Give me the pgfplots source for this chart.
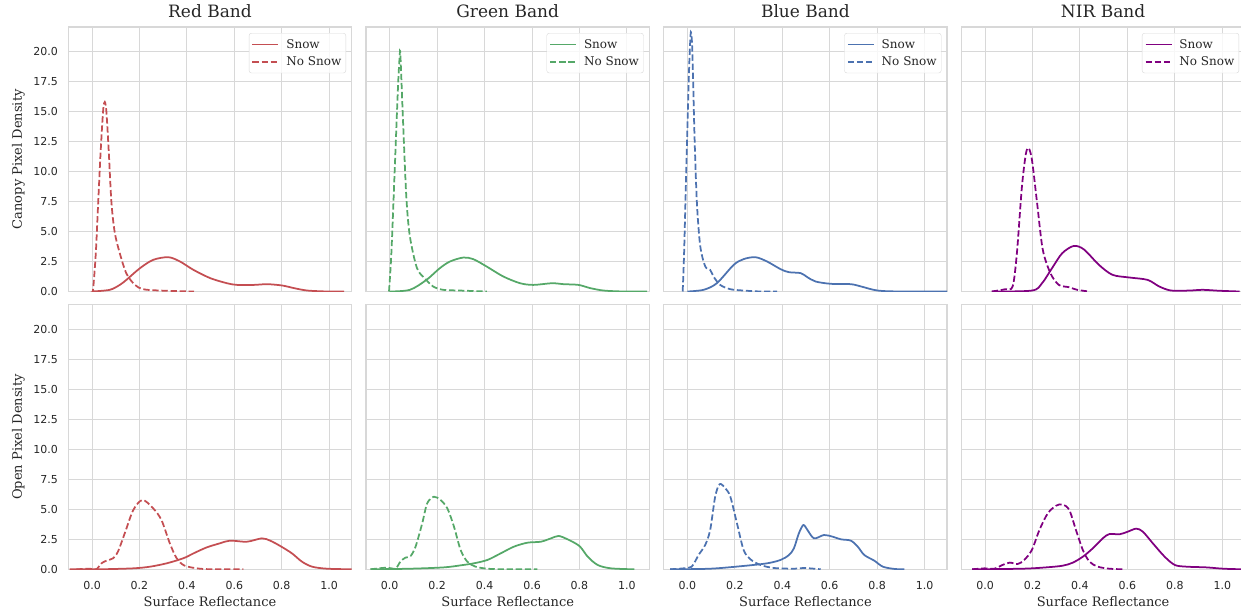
\documentclass[border=0pt]{standalone}
\usepackage{fontspec}
\setmainfont{DejaVu Serif}
\newfontfamily\ticksfont{DejaVu Sans}
\usepackage{pgfplots}
\pgfplotsset{compat=1.18}
\usepgfplotslibrary{groupplots}
\definecolor{sred}{HTML}{C44E52}
\definecolor{sgreen}{HTML}{55A868}
\definecolor{sblue}{HTML}{4C72B0}
\definecolor{spurple}{HTML}{800080}
\definecolor{gridgray}{HTML}{D8D8D8}
\definecolor{textgray}{HTML}{262626}
\tikzset{
  snow/.style={line width=1.75pt, smooth},
  nosnow/.style={line width=1.75pt, smooth, dash pattern=on 6.3pt off 2.8pt},
}
\begin{document}
\begin{tikzpicture}
\begin{groupplot}[
  group style={group size=4 by 2, horizontal sep=14.3pt, vertical sep=13.3pt,
    xticklabels at=edge bottom, yticklabels at=edge left},
  scale only axis, width=283.4pt, height=264.5pt,
  xmin=-0.1, xmax=1.095, ymin=0, ymax=22.05,
  xtick={0,0.2,0.4,0.6,0.8,1.0},
  ytick={0,2.5,5,7.5,10,12.5,15,17.5,20},
  grid=major, major grid style={color=gridgray, line width=1pt},
  axis line style={color=gridgray, line width=1.25pt},
  major tick length=0pt,
  /pgf/number format/assume math mode=true,
  tick label style={font=\ticksfont\fontsize{11}{13}\selectfont, text=textgray},
  xticklabel style={/pgf/number format/fixed, /pgf/number format/fixed zerofill, /pgf/number format/precision=1, yshift=-8pt},
  yticklabel style={/pgf/number format/fixed, /pgf/number format/fixed zerofill, /pgf/number format/precision=1, xshift=-7pt},
  title style={font=\fontsize{17}{20}\selectfont, text=textgray},
  label style={font=\fontsize{13}{15}\selectfont, text=textgray},
  xlabel style={at={(rel axis cs:0.5,0)}, anchor=center, yshift=-32.4pt},
  ylabel style={at={(rel axis cs:0,0.5)}, anchor=center, yshift=50pt},
  legend style={at={(1,1)}, anchor=north east, xshift=-5.7pt, yshift=-6pt,
    draw=gridgray, rounded corners=2.5pt, fill=white, fill opacity=0.8, text opacity=1,
    font=\fontsize{12}{14}\selectfont, text=textgray,
    inner xsep=2.5pt, inner ysep=4pt, row sep=3pt,
    nodes={inner sep=2pt, text depth=0.15em},
    /tikz/every odd column/.append style={column sep=5pt}},
  legend cell align=left,
  legend image code/.code={\draw[#1] (0pt,0pt) -- (26pt,0pt);},
]
% ---- Top row: Canopy ----
\nextgroupplot[title={Red Band}, ylabel={Canopy Pixel Density}]
\addplot[snow, sred] coordinates {(0.0,0) (0.075,0.14) (0.117,0.55) (0.145,0.97) (0.202,1.94) (0.258,2.64) (0.322,2.86) (0.371,2.5) (0.428,1.8) (0.499,1.11) (0.569,0.69) (0.612,0.55) (0.682,0.55) (0.739,0.61) (0.802,0.5) (0.852,0.28) (0.908,0.08) (0.993,0) (1.063,0)};
\addlegendentry{Snow}
\addplot[nosnow, sred] coordinates {(-0.003,0) (0.004,0.08) (0.016,3.2) (0.026,7.4) (0.036,11.5) (0.047,15.1) (0.054,15.8) (0.061,14.9) (0.071,11.5) (0.082,7.4) (0.096,4.9) (0.117,3.2) (0.145,1.5) (0.181,0.55) (0.216,0.19) (0.287,0.08) (0.43,0)};
\addlegendentry{No Snow}

\nextgroupplot[title={Green Band}]
\addplot[snow, sgreen] coordinates {(0,0) (0.085,0.14) (0.155,0.97) (0.211,1.94) (0.254,2.5) (0.31,2.83) (0.352,2.7) (0.409,2.08) (0.479,1.25) (0.55,0.69) (0.606,0.55) (0.684,0.69) (0.733,0.61) (0.796,0.55) (0.846,0.28) (0.902,0.08) (0.986,0) (1.085,0)};
\addlegendentry{Snow}
\addplot[nosnow, sgreen] coordinates {(-0.003,0) (0.007,3.2) (0.021,10.1) (0.035,17.1) (0.042,19.6) (0.045,19.7) (0.056,14.3) (0.07,7.9) (0.085,4.6) (0.115,1.95) (0.148,1.1) (0.183,0.42) (0.225,0.14) (0.296,0.08) (0.41,0)};
\addlegendentry{No Snow}

\nextgroupplot[title={Blue Band}]
\addplot[snow, sblue] coordinates {(0,0) (0.068,0.14) (0.124,0.69) (0.195,2.22) (0.237,2.7) (0.287,2.86) (0.336,2.5) (0.393,1.86) (0.428,1.61) (0.478,1.53) (0.506,1.19) (0.541,0.83) (0.605,0.64) (0.689,0.61) (0.732,0.42) (0.802,0.08) (0.901,0) (1.099,0)};
\addlegendentry{Snow}
\addplot[nosnow, sblue] coordinates {(-0.02,0) (-0.014,3.2) (-0.003,11.5) (0.007,18.5) (0.013,21.3) (0.016,21.5) (0.021,19.9) (0.03,12.9) (0.04,7.4) (0.054,3.8) (0.075,2.1) (0.096,1.8) (0.11,1.25) (0.138,0.55) (0.181,0.19) (0.237,0.08) (0.308,0) (0.378,0)};
\addlegendentry{No Snow}

\nextgroupplot[title={NIR Band}]
\addplot[snow, spurple] coordinates {(0.028,0) (0.198,0.08) (0.24,0.69) (0.282,1.94) (0.325,3.19) (0.374,3.8) (0.417,3.5) (0.48,2.22) (0.537,1.39) (0.607,1.17) (0.685,0.97) (0.734,0.42) (0.784,0.08) (0.862,0.08) (0.918,0.14) (0.989,0.06) (1.073,0)};
\addlegendentry{Snow}
\addplot[nosnow, spurple] coordinates {(0.028,0) (0.085,0.19) (0.116,0.42) (0.134,3.2) (0.155,8.7) (0.172,11.5) (0.184,11.95) (0.198,10.9) (0.219,7.4) (0.243,3.5) (0.276,1.5) (0.311,0.55) (0.353,0.36) (0.388,0.14) (0.438,0)};
\addlegendentry{No Snow}

% ---- Bottom row: Open ----
\nextgroupplot[ylabel={Open Pixel Density}, xlabel={Surface Reflectance}]
\addplot[snow, sred] coordinates {(-0.094,0) (0.03,0) (0.174,0.08) (0.245,0.22) (0.315,0.5) (0.385,0.92) (0.428,1.33) (0.484,1.83) (0.54,2.17) (0.582,2.39) (0.653,2.3) (0.716,2.58) (0.751,2.39) (0.794,1.94) (0.843,1.33) (0.885,0.64) (0.928,0.22) (0.991,0.05) (1.097,0)};
\addplot[nosnow, sred] coordinates {(-0.066,0) (-0.008,0.05) (0.018,0) (0.04,0.5) (0.061,0.72) (0.089,0.92) (0.11,1.5) (0.138,3.0) (0.174,4.94) (0.213,5.78) (0.258,5.08) (0.293,4.1) (0.328,2.17) (0.357,0.92) (0.391,0.3) (0.455,0.05) (0.526,0) (0.638,0)};

\nextgroupplot[xlabel={Surface Reflectance}]
\addplot[snow, sgreen] coordinates {(-0.081,0) (0.088,0.05) (0.228,0.16) (0.299,0.33) (0.355,0.5) (0.412,0.78) (0.468,1.33) (0.524,1.89) (0.581,2.22) (0.637,2.3) (0.68,2.58) (0.712,2.78) (0.75,2.5) (0.8,1.94) (0.835,1.05) (0.877,0.36) (0.933,0.08) (1.032,0)};
\addplot[nosnow, sgreen] coordinates {(-0.081,0) (-0.011,0.14) (0.024,0.05) (0.045,0.64) (0.066,0.97) (0.088,1.11) (0.109,1.89) (0.137,3.83) (0.158,5.5) (0.186,6.05) (0.214,5.78) (0.243,5.08) (0.271,3.55) (0.299,1.61) (0.327,0.64) (0.362,0.22) (0.412,0.05) (0.482,0) (0.623,0)};

\nextgroupplot[xlabel={Surface Reflectance}]
\addplot[snow, sblue] coordinates {(-0.073,0) (0.096,0.05) (0.237,0.28) (0.336,0.5) (0.393,0.78) (0.428,1.19) (0.449,1.75) (0.47,3.0) (0.489,3.69) (0.506,3.28) (0.534,2.58) (0.576,2.86) (0.612,2.72) (0.647,2.5) (0.689,2.39) (0.718,1.89) (0.746,1.19) (0.788,0.72) (0.824,0.22) (0.873,0.03) (0.915,0)};
\addplot[nosnow, sblue] coordinates {(-0.073,0) (-0.017,0.08) (0.018,0.22) (0.047,1.19) (0.075,2.03) (0.096,3.28) (0.117,6.05) (0.136,7.1) (0.16,6.75) (0.181,6.05) (0.209,3.83) (0.237,1.61) (0.266,0.83) (0.308,0.36) (0.364,0.11) (0.449,0.05) (0.491,0.11) (0.562,0)};

\nextgroupplot[xlabel={Surface Reflectance}]
\addplot[snow, spurple] coordinates {(-0.055,0) (0.158,0.05) (0.257,0.16) (0.327,0.3) (0.369,0.55) (0.412,1.05) (0.454,1.75) (0.496,2.58) (0.524,2.94) (0.567,2.92) (0.602,3.14) (0.637,3.39) (0.665,3.14) (0.707,2.17) (0.757,1.05) (0.8,0.36) (0.849,0.22) (0.933,0.16) (1.004,0.05) (1.085,0)};
\addplot[nosnow, spurple] coordinates {(-0.055,0) (-0.003,0.08) (0.038,0.05) (0.073,0.36) (0.104,0.56) (0.137,0.44) (0.165,0.78) (0.197,1.61) (0.229,3.28) (0.264,4.66) (0.299,5.3) (0.327,5.41) (0.355,4.94) (0.383,3.28) (0.412,1.61) (0.44,0.64) (0.475,0.22) (0.524,0.05) (0.581,0)};
\end{groupplot}
\pgfresetboundingbox
\path[use as bounding box] ([shift={(-68.3pt,27pt)}]group c1r1.north west) rectangle ([shift={(1172.7pt,-584pt)}]group c1r1.north west);
\end{tikzpicture}
\end{document}
